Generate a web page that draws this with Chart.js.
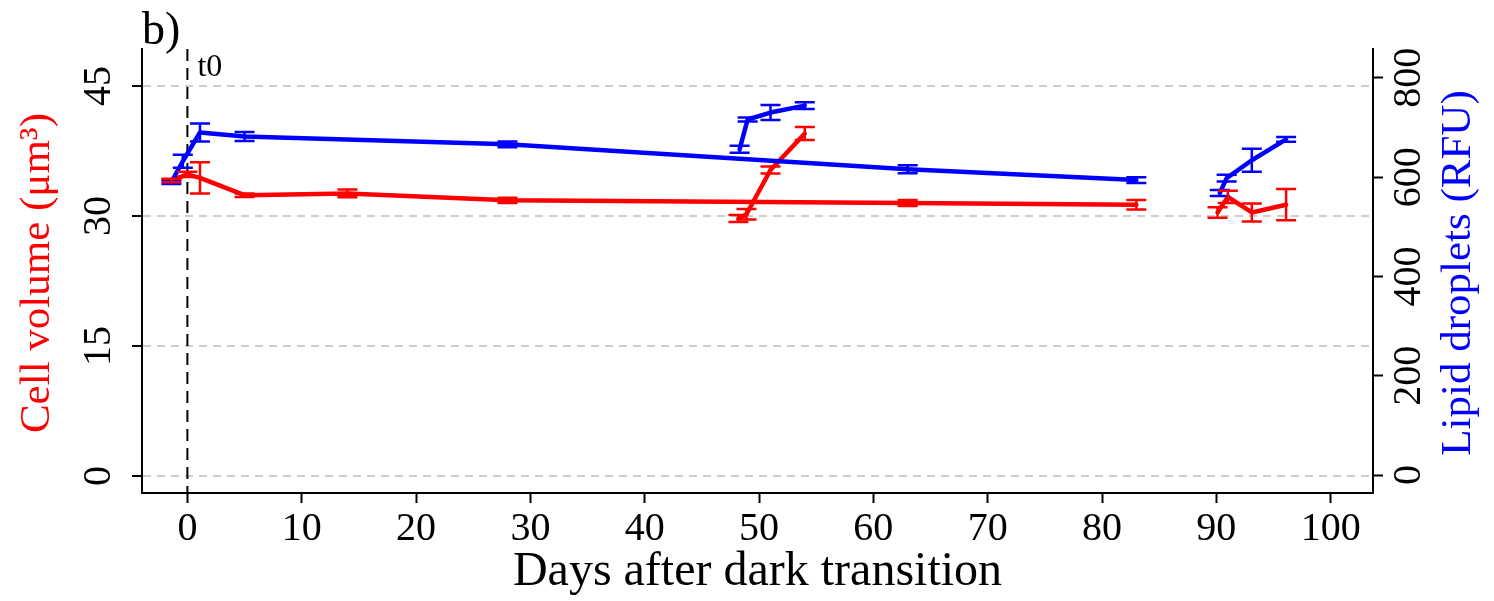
<!DOCTYPE html>
<html>
<head>
<meta charset="utf-8">
<script src="https://cdn.jsdelivr.net/npm/chart.js@4.4.1/dist/chart.umd.min.js"></script>
<style>
  html, body { margin: 0; padding: 0; background: #fff; }
</style>
</head>
<body>
<canvas id="chart" width="1494" height="601"></canvas>
<script>
// Cell volume (um^3): day, mean, error; run = which sampling series the point belongs to
const volDays = [-1.4, 0, 1.1, 5, 14, 28, 63, 83, 48.2, 48.9, 51, 54, 90.1, 91, 93.1, 96.1];
const volMean = [34.1, 34.8, 34.4, 32.4, 32.6, 31.8, 31.5, 31.3, 29.7, 30.2, 35.3, 39.5, 30.4, 32.2, 30.4, 31.3];
const volErr  = [0.2, 0.3, 1.8, 0.2, 0.45, 0.3, 0.35, 0.55, 0.4, 0.6, 0.4, 0.75, 0.6, 0.7, 1.05, 1.8];
const volRun  = [1, 1, 1, 1, 1, 1, 1, 1, 2, 2, 2, 2, 3, 3, 3, 3];

// Lipid droplets (RFU)
const lipDays = [-1.4, -0.4, 1.1, 5, 28, 63, 83, 48.3, 49, 51, 54, 90.3, 90.9, 93.1, 96.1];
const lipMean = [590, 632, 690, 682, 666, 616, 594, 656, 716, 730, 744, 568, 598, 634, 676];
const lipErr  = [4, 13, 18, 9, 6, 8, 6, 7, 4, 15, 7, 6, 7, 23, 5];
const lipRun  = [1, 1, 1, 1, 1, 1, 1, 2, 2, 2, 2, 3, 3, 3, 3];

const xTicks = [0, 10, 20, 30, 40, 50, 60, 70, 80, 90, 100];
const volTicks = [0, 15, 30, 45];
const lipTicks = [0, 200, 400, 600, 800];

const RED = '#ff0000';
const BLUE = '#0000ff';
const SERIF = '"Liberation Serif", "DejaVu Serif", serif';

// split a series into one line dataset per run
function makeRuns(days, mean, err, run, color, axis) {
    const groups = {};
    days.forEach((d, i) => {
        if (!groups[run[i]]) groups[run[i]] = { pts: [], errs: [] };
        groups[run[i]].pts.push({ x: d, y: mean[i] });
        groups[run[i]].errs.push(err[i]);
    });
    return Object.values(groups).map(g => ({
        data: g.pts,
        errors: g.errs,
        yAxisID: axis,
        borderColor: color,
        borderWidth: 4.5,
        borderJoinStyle: 'round',
        borderCapStyle: 'round',
        pointRadius: 0,
        tension: 0,
        fill: false
    }));
}

// error bars with caps
const errorBars = {
    id: 'errorBars',
    afterDatasetsDraw(chart) {
        const ctx = chart.ctx;
        const xs = chart.scales.x;
        chart.data.datasets.forEach(ds => {
            const ys = chart.scales[ds.yAxisID];
            ctx.save();
            ctx.strokeStyle = ds.borderColor;
            ctx.lineWidth = 2.5;
            ds.data.forEach((p, i) => {
                const px = xs.getPixelForValue(p.x);
                const top = ys.getPixelForValue(p.y + ds.errors[i]);
                const bot = ys.getPixelForValue(p.y - ds.errors[i]);
                ctx.beginPath();
                ctx.moveTo(px, top); ctx.lineTo(px, bot);
                ctx.moveTo(px - 10, top); ctx.lineTo(px + 10, top);
                ctx.moveTo(px - 10, bot); ctx.lineTo(px + 10, bot);
                ctx.stroke();
            });
            ctx.restore();
        });
    }
};

// t0 marker, rotated y labels and titles
const decorations = {
    id: 'decorations',
    beforeDatasetsDraw(chart) {
        const ctx = chart.ctx;
        const a = chart.chartArea;
        const x0 = chart.scales.x.getPixelForValue(0);
        ctx.save();
        ctx.strokeStyle = '#000';
        ctx.lineWidth = 2;
        ctx.setLineDash([12, 7]);
        ctx.beginPath();
        ctx.moveTo(x0, a.top);
        ctx.lineTo(x0, a.bottom);
        ctx.stroke();
        ctx.restore();
    },
    afterDraw(chart) {
        const ctx = chart.ctx;
        const a = chart.chartArea;
        const yL = chart.scales.y;
        const yR = chart.scales.y1;
        const midY = (a.top + a.bottom) / 2;

        const rotText = (txt, x, y, font, color) => {
            ctx.save();
            ctx.translate(x, y);
            ctx.rotate(-Math.PI / 2);
            ctx.font = font;
            ctx.fillStyle = color;
            ctx.textAlign = 'center';
            ctx.textBaseline = 'middle';
            ctx.fillText(txt, 0, 0);
            ctx.restore();
        };

        volTicks.forEach(v => rotText(String(v), 99, yL.getPixelForValue(v), '40px ' + SERIF, '#000'));
        lipTicks.forEach(v => rotText(String(v), 1409, yR.getPixelForValue(v), '40px ' + SERIF, '#000'));

        rotText('Cell volume (\u03bcm\u00b3)', 38, midY + 2, '43px ' + SERIF, RED);
        rotText('Lipid droplets (RFU)', 1459, midY + 2, '43px ' + SERIF, BLUE);

        ctx.save();
        ctx.fillStyle = '#000';
        ctx.textBaseline = 'alphabetic';
        ctx.textAlign = 'left';
        ctx.font = '46px ' + SERIF;
        ctx.fillText('b)', 142, 44);
        ctx.font = '32px ' + SERIF;
        ctx.fillText('t0', chart.scales.x.getPixelForValue(0) + 10, 76);
        ctx.restore();
    }
};

const ctx = document.getElementById('chart').getContext('2d');
new Chart(ctx, {
    type: 'line',
    data: {
        datasets: [
            ...makeRuns(lipDays, lipMean, lipErr, lipRun, BLUE, 'y1'),
            ...makeRuns(volDays, volMean, volErr, volRun, RED, 'y')
        ]
    },
    options: {
        responsive: false,
        devicePixelRatio: 1,
        animation: false,
        layout: { padding: { top: 49, left: 0, right: 0, bottom: 0 } },
        plugins: { legend: { display: false }, tooltip: { enabled: false } },
        scales: {
            x: {
                type: 'linear',
                position: 'bottom',
                min: -3.97,
                max: 103.7,
                afterBuildTicks: s => { s.ticks = xTicks.map(v => ({ value: v })); },
                afterFit: s => { s.height = 108; },
                ticks: { color: '#000', font: { family: SERIF, size: 40 }, padding: 2 },
                grid: { drawOnChartArea: false, drawTicks: true, tickLength: 10, tickWidth: 2, tickColor: '#000' },
                border: { color: '#000', width: 2 },
                title: {
                    display: true,
                    text: 'Days after dark transition',
                    color: '#000',
                    font: { family: SERIF, size: 48 },
                    padding: { top: 0, bottom: 0 }
                }
            },
            y: {
                type: 'linear',
                position: 'left',
                min: -1.96,
                max: 49.26,
                afterBuildTicks: s => { s.ticks = volTicks.map(v => ({ value: v })); },
                afterFit: s => { s.width = 142; },
                ticks: { display: false },
                grid: { color: '#cccccc', lineWidth: 2, tickLength: 10, tickWidth: 2, tickColor: '#000', tickBorderDash: [] },
                border: { color: '#000', width: 2, dash: [8, 6] }
            },
            y1: {
                type: 'linear',
                position: 'right',
                min: -36,
                max: 858,
                afterBuildTicks: s => { s.ticks = lipTicks.map(v => ({ value: v })); },
                afterFit: s => { s.width = 121; },
                ticks: { display: false },
                grid: { drawOnChartArea: false, tickLength: 10, tickWidth: 2, tickColor: '#000' },
                border: { color: '#000', width: 2 }
            }
        }
    },
    plugins: [errorBars, decorations]
});
</script>
</body>
</html>
